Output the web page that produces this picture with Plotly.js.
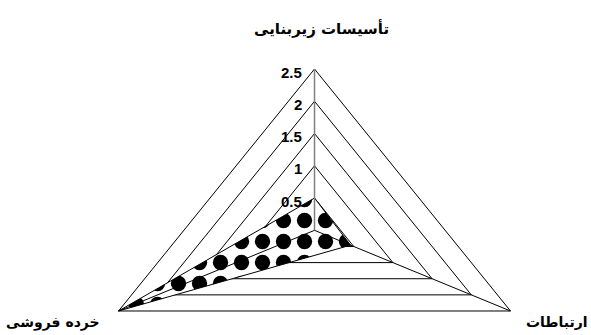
<!DOCTYPE html>
<html>
<head>
<meta charset="utf-8">
<script src="https://cdn.plot.ly/plotly-3.0.1.min.js"></script>
<style>
  html, body { margin: 0; padding: 0; background: #fff; }
  #chart { width: 591px; height: 335px; }
</style>
</head>
<body>
<div id="chart"></div>
<script>
// radar chart data
var categories = ['تأسیسات زیربنایی', 'ارتباطات', 'خرده فروشی'];
var values = [0.5, 0.46, 2.5];
var tickValues = [0.5, 1, 1.5, 2, 2.5];
var tickLabels = ['0.5', '1', '1.5', '2', '2.5'];
var rMax = 2.5;

// the original is stretched sideways, so the radar is drawn on plain x/y axes
// angle of each spoke, clockwise from the top
function spokeAngle(i) {
    return Math.PI / 2 - i * 2 * Math.PI / categories.length;
}

function toXY(v, i) {
    var a = spokeAngle(i);
    return [v / rMax * Math.cos(a), v / rMax * Math.sin(a)];
}

// closed polygon through all spokes
function polygon(vals) {
    var xs = [], ys = [];
    for (var i = 0; i <= vals.length; i++) {
        var p = toXY(vals[i % vals.length], i % vals.length);
        xs.push(p[0]);
        ys.push(p[1]);
    }
    return {x: xs, y: ys};
}

var data = [];

// grid rings
tickValues.forEach(function(t) {
    var ring = polygon(categories.map(function() { return t; }));
    data.push({
        x: ring.x, y: ring.y, mode: 'lines', type: 'scatter',
        line: {color: '#000', width: 1}, hoverinfo: 'skip'
    });
});

// the series, with the dotted pattern fill
var shape = polygon(values);
data.push({
    x: shape.x, y: shape.y, mode: 'lines', type: 'scatter',
    fill: 'toself', fillcolor: '#fff',
    fillpattern: {shape: '.', size: 21, solidity: 0.42, fgcolor: '#000', bgcolor: '#fff'},
    line: {color: '#000', width: 1}, hoverinfo: 'skip'
});

// spokes, drawn over the fill
for (var i = 0; i < categories.length; i++) {
    var end = toXY(rMax, i);
    data.push({
        x: [0, end[0]], y: [0, end[1]], mode: 'lines', type: 'scatter',
        line: {color: i == 0 ? '#808080' : '#000', width: i == 0 ? 1.5 : 1},
        hoverinfo: 'skip'
    });
}

var annotations = [];

// value labels beside the top spoke
tickValues.forEach(function(t, k) {
    var p = toXY(t, 0);
    annotations.push({
        x: p[0], y: p[1], xref: 'x', yref: 'y', text: tickLabels[k],
        showarrow: false, xanchor: 'right', yanchor: 'middle',
        xshift: -11, yshift: -3,
        font: {family: 'Liberation Sans, Arial, sans-serif', size: 15, color: '#000', weight: 'bold'}
    });
});

// category labels (the right one is pinned to the page edge so it is not cut)
var catPlace = [
    {xanchor: 'center', yanchor: 'middle', xshift: 7, yshift: 41, size: 15},
    {xref: 'paper', x: 1, xanchor: 'right', yanchor: 'middle', xshift: -1, yshift: -11, size: 14},
    {xanchor: 'right', yanchor: 'middle', xshift: -17, yshift: -12, size: 14}
];
categories.forEach(function(c, i) {
    var p = toXY(rMax, i);
    var pl = catPlace[i];
    annotations.push({
        x: pl.x !== undefined ? pl.x : p[0], y: p[1],
        xref: pl.xref || 'x', yref: 'y', text: '<b>' + c + '</b>',
        showarrow: false, xanchor: pl.xanchor, yanchor: pl.yanchor,
        xshift: pl.xshift, yshift: pl.yshift,
        font: {family: 'DejaVu Sans, sans-serif', size: pl.size, color: '#000'}
    });
});

var layout = {
    width: 591, height: 335,
    margin: {l: 0, r: 0, t: 0, b: 0},
    paper_bgcolor: '#fff', plot_bgcolor: '#fff',
    showlegend: false,
    xaxis: {range: [-1.3898, 1.2218], visible: false, fixedrange: true},
    yaxis: {range: [-0.6488, 1.4277], visible: false, fixedrange: true},
    annotations: annotations
};

Plotly.newPlot('chart', data, layout, {displayModeBar: false, staticPlot: true});
</script>
</body>
</html>
